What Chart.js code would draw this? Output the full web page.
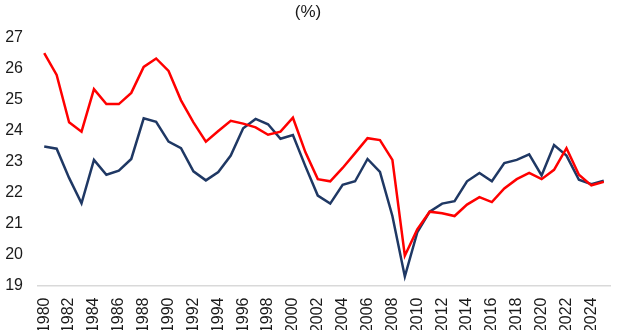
<!DOCTYPE html>
<html>
<head>
<meta charset="utf-8">
<script src="https://cdn.jsdelivr.net/npm/chart.js@4"></script>
<style>
  html, body { margin: 0; padding: 0; background: #fff; overflow: hidden; }
  .chart-wrapper { position: relative; width: 620px; height: 330px; }
</style>
</head>
<body>
<div class="chart-wrapper"><canvas id="myChart"></canvas></div>
<script>
const years = [];
for (let y = 1980; y <= 2025; y++) years.push(String(y));

// red line
const redSeries = [26.49, 25.79, 24.26, 23.96, 25.33, 24.85, 24.85, 25.21, 26.05, 26.32,
  25.92, 24.97, 24.26, 23.64, 23.98, 24.31, 24.22, 24.1, 23.86, 23.96,
  24.41, 23.3, 22.43, 22.36, 22.79, 23.27, 23.75, 23.69, 23.05, 19.96,
  20.81, 21.38, 21.33, 21.24, 21.61, 21.85, 21.69, 22.13, 22.43, 22.63,
  22.43, 22.73, 23.43, 22.57, 22.23, 22.34];

// navy line
const blueSeries = [23.48, 23.41, 22.47, 21.65, 23.05, 22.57, 22.7, 23.08, 24.39, 24.28,
  23.64, 23.43, 22.68, 22.39, 22.66, 23.19, 24.07, 24.37, 24.2, 23.73,
  23.85, 22.85, 21.9, 21.64, 22.25, 22.36, 23.08, 22.66, 21.24, 19.29,
  20.71, 21.38, 21.64, 21.72, 22.36, 22.63, 22.36, 22.95, 23.05, 23.23,
  22.55, 23.53, 23.19, 22.41, 22.27, 22.38];

const yTicks = [19, 20, 21, 22, 23, 24, 25, 26, 27];

const fontFamily = "'Liberation Sans', Arial, sans-serif";
const textColor = "#1a1a1a";

new Chart(document.getElementById("myChart"), {
  type: "line",
  data: {
    labels: years,
    datasets: [
      {
        label: "Red",
        data: redSeries,
        borderColor: "#ff0000",
        borderWidth: 2.5,
        pointRadius: 0,
        tension: 0,
        fill: false
      },
      {
        label: "Blue",
        data: blueSeries,
        borderColor: "#1f3864",
        borderWidth: 2.5,
        pointRadius: 0,
        tension: 0,
        fill: false
      }
    ]
  },
  options: {
    responsive: true,
    maintainAspectRatio: false,
    animation: false,
    layout: { padding: { top: 2, right: 10, left: 6, bottom: 0 } },
    plugins: {
      legend: { display: false },
      tooltip: { enabled: false },
      title: {
        display: true,
        text: "(%)",
        color: textColor,
        font: { family: fontFamily, size: 17, weight: "normal" },
        padding: { top: 0, bottom: 15 }
      }
    },
    scales: {
      x: {
        offset: true,
        grid: { display: false, drawTicks: false },
        border: { display: true, color: "#d9d9d9", width: 1.5 },
        ticks: {
          autoSkip: false,
          maxRotation: 90,
          minRotation: 90,
          padding: 12,
          color: textColor,
          font: { family: fontFamily, size: 16 },
          callback: (val, i) => (i % 2 === 0 ? years[i] : "")
        },
        afterFit: (scale) => {
          scale.height = 44.5;
          scale.paddingLeft = 0;
          scale.paddingRight = 0;
        }
      },
      y: {
        min: 19,
        max: 27,
        afterBuildTicks: (scale) => { scale.ticks = yTicks.map(v => ({ value: v })); },
        grid: { display: false, drawTicks: false },
        border: { display: false },
        ticks: {
          padding: 15,
          color: textColor,
          font: { family: fontFamily, size: 16 }
        },
        afterFit: (scale) => { scale.width = 32; }
      }
    }
  }
});
</script>
</body>
</html>
